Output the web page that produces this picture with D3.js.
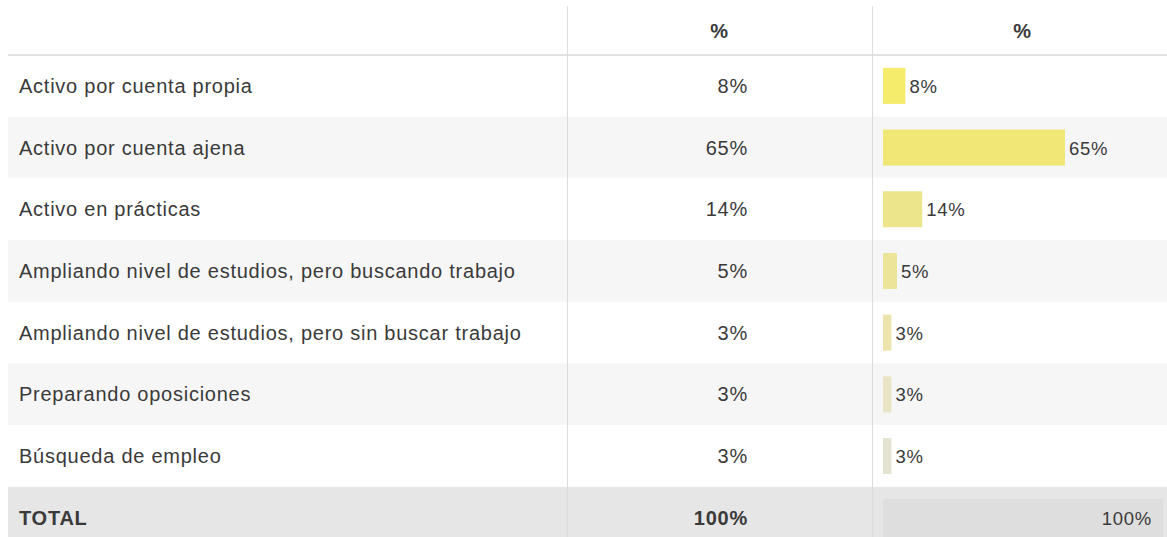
<!DOCTYPE html>
<html><head><meta charset="utf-8">
<script src="https://cdn.jsdelivr.net/npm/d3@7"></script>
<style>body{margin:0;background:#fff;}svg{display:block;font-family:"Liberation Sans",Arial,sans-serif;}text{letter-spacing:0.75px;}</style>
</head><body><svg id="c" width="1167" height="537"></svg>
<script>
const categories = ["Activo por cuenta propia","Activo por cuenta ajena","Activo en prácticas","Ampliando nivel de estudios, pero buscando trabajo","Ampliando nivel de estudios, pero sin buscar trabajo","Preparando oposiciones","Búsqueda de empleo"];
const values = [8,65,14,5,3,3,3];
const barColors = ["#f4ec6a","#f0e777","#ede58c","#ece599","#ece4ac","#e8e4c4","#e4e3d2"];
const headers = ["", "%", "%"];
const totalLabel = "TOTAL";
const totalValue = 100;

const svg = d3.select("#c");
const W = 1167, left = 8, c1 = 567, c2 = 872;
const headerTop = 6, headerBottom = 55, rowH = 61.7;
const fmt = v => v + "%";
const fs = 20, fsBar = 18.5, txt = "#3a3a3a";

const y = d3.scaleBand().domain(d3.range(categories.length + 1)).range([headerBottom, headerBottom + rowH*(categories.length+1)]);
const x = d3.scaleLinear().domain([0, 100]).range([883, 1163]);

svg.selectAll("rect.rowbg").data(d3.range(categories.length)).join("rect")
  .attr("x", left).attr("width", W-left).attr("y", i => y(i)).attr("height", y.bandwidth())
  .attr("fill", i => i % 2 === 1 ? "#f6f6f6" : "#fff");
svg.append("rect").attr("x", left).attr("width", W-left).attr("y", y(categories.length)).attr("height", y.bandwidth()).attr("fill", "#e6e6e6");

svg.append("line").attr("x1", left).attr("x2", W).attr("y1", headerBottom).attr("y2", headerBottom).attr("stroke", "#e2e2e2").attr("stroke-width", 2);
[c1, c2].forEach(cx => svg.append("line").attr("x1", cx+0.5).attr("x2", cx+0.5).attr("y1", headerTop).attr("y2", 537).attr("stroke", "#dcdcdc").attr("stroke-width", 1));

svg.append("text").attr("x", (c1+c2)/2).attr("y", 38).attr("text-anchor", "middle").attr("font-size", fs).attr("font-weight", "bold").attr("fill", txt).text(headers[1]);
svg.append("text").attr("x", (c2+W)/2 + 3).attr("y", 38).attr("text-anchor", "middle").attr("font-size", fs).attr("font-weight", "bold").attr("fill", txt).text(headers[2]);

const mid = i => y(i) + y.bandwidth()/2;
svg.selectAll("text.lab").data(categories).join("text")
  .attr("x", 19).attr("y", (d,i) => mid(i) + 7).attr("font-size", fs).attr("fill", txt).text(d => d);
svg.selectAll("text.val").data(values).join("text")
  .attr("x", 748).attr("y", (d,i) => mid(i) + 7).attr("text-anchor", "end").attr("font-size", fs).attr("fill", txt).text(fmt);
const bh = 36;
svg.selectAll("rect.bar").data(values).join("rect")
  .attr("x", x(0)).attr("y", (d,i) => mid(i) - bh/2).attr("width", d => x(d) - x(0)).attr("height", bh)
  .attr("fill", (d,i) => barColors[i]);
svg.selectAll("text.bv").data(values).join("text")
  .attr("x", d => x(d) + 4).attr("y", (d,i) => mid(i) + 7).attr("font-size", fsBar).attr("fill", txt).text(fmt);

const ti = categories.length;
svg.append("text").attr("x", 19).attr("y", mid(ti) + 7).attr("font-size", fs).attr("font-weight", "bold").attr("fill", txt).text(totalLabel);
svg.append("text").attr("x", 748).attr("y", mid(ti) + 7).attr("text-anchor", "end").attr("font-size", fs).attr("font-weight", "bold").attr("fill", txt).text(fmt(totalValue));
svg.append("rect").attr("x", x(0)).attr("y", mid(ti) - 19).attr("width", x(totalValue) - x(0)).attr("height", 40).attr("fill", "#dedede");
svg.append("text").attr("x", x(totalValue) - 11).attr("y", mid(ti) + 7).attr("text-anchor", "end").attr("font-size", fsBar).attr("fill", txt).text(fmt(totalValue));
</script></body></html>
